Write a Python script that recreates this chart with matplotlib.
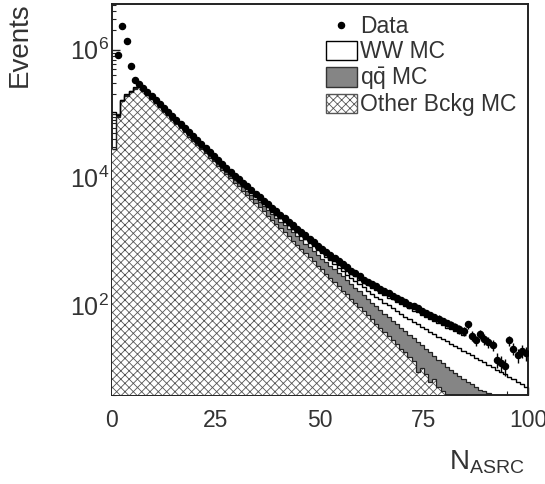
import numpy as np
import matplotlib
matplotlib.use('Agg')
import matplotlib.pyplot as plt
from matplotlib.patches import Patch
from matplotlib.lines import Line2D
from matplotlib.ticker import LogLocator, FixedLocator, FixedFormatter, NullFormatter, MultipleLocator

plt.rcParams['font.family'] = ['Liberation Sans', 'DejaVu Sans']
plt.rcParams['mathtext.fontset'] = 'custom'
plt.rcParams['mathtext.rm'] = 'Liberation Sans'
plt.rcParams['mathtext.it'] = 'Liberation Sans:italic'
plt.rcParams['hatch.linewidth'] = 0.6

# bin edges 0..100, one unit wide; values are log10(events) per bin
edges = np.arange(0, 101)

other_log = [4.44, 4.95, 5.20, 5.28, 5.34, 5.39, 5.42, 5.36, 5.29, 5.23,
             5.16, 5.10, 5.03, 4.97, 4.90, 4.84, 4.77, 4.71, 4.64, 4.57,
             4.51, 4.44, 4.38, 4.31, 4.25, 4.18, 4.12, 4.05, 3.99, 3.92,
             3.86, 3.79, 3.73, 3.66, 3.60, 3.53, 3.47, 3.40, 3.34, 3.27,
             3.21, 3.14, 3.08, 3.01, 2.95, 2.88, 2.82, 2.75, 2.69, 2.62,
             2.56, 2.49, 2.43, 2.36, 2.30, 2.23, 2.17, 2.10, 2.04, 1.97,
             1.91, 1.84, 1.78, 1.71, 1.65, 1.58, 1.52, 1.45, 1.39, 1.32,
             1.26, 1.19, 1.13, 0.95, 1.02, 0.93, 0.80, 0.84, 0.72, 0.65,
             0.45, 0.0, 0.0, 0.0, 0.0, 0.0, 0.0, 0.0, 0.0, 0.0,
             0.0, 0.0, 0.0, 0.0, 0.0, 0.0, 0.0, 0.0, 0.0, 0.0]

# other + qqbar (top of grey band)
qq_log = [4.44, 4.96, 5.21, 5.29, 5.35, 5.40, 5.43, 5.37, 5.30, 5.24,
          5.17, 5.11, 5.05, 4.98, 4.92, 4.85, 4.79, 4.72, 4.66, 4.59,
          4.53, 4.46, 4.40, 4.34, 4.27, 4.21, 4.15, 4.08, 4.02, 3.96,
          3.91, 3.85, 3.79, 3.73, 3.67, 3.61, 3.55, 3.49, 3.43, 3.37,
          3.31, 3.25, 3.19, 3.14, 3.08, 3.02, 2.96, 2.91, 2.85, 2.79,
          2.73, 2.68, 2.62, 2.56, 2.50, 2.45, 2.39, 2.33, 2.27, 2.22,
          2.16, 2.10, 2.04, 1.99, 1.93, 1.87, 1.82, 1.76, 1.70, 1.64,
          1.59, 1.53, 1.48, 1.42, 1.37, 1.31, 1.26, 1.20, 1.15, 1.09,
          1.04, 0.99, 0.94, 0.89, 0.84, 0.80, 0.76, 0.72, 0.68, 0.65,
          0.62, 0.58, 0.0, 0.0, 0.0, 0.0, 0.0, 0.0, 0.0, 0.0]

# total MC (other + qqbar + WW)
ww_log = [5.03, 4.97, 5.22, 5.30, 5.36, 5.41, 5.44, 5.38, 5.32, 5.26,
          5.19, 5.13, 5.07, 5.01, 4.94, 4.88, 4.82, 4.76, 4.69, 4.63,
          4.57, 4.51, 4.44, 4.38, 4.32, 4.26, 4.19, 4.13, 4.07, 4.01,
          3.95, 3.89, 3.83, 3.77, 3.71, 3.65, 3.59, 3.53, 3.48, 3.42,
          3.36, 3.30, 3.25, 3.19, 3.14, 3.08, 3.03, 2.97, 2.92, 2.86,
          2.81, 2.75, 2.70, 2.64, 2.59, 2.54, 2.48, 2.43, 2.38, 2.33,
          2.28, 2.23, 2.18, 2.13, 2.09, 2.04, 2.00, 1.95, 1.91, 1.86,
          1.82, 1.78, 1.74, 1.70, 1.66, 1.62, 1.58, 1.55, 1.51, 1.47,
          1.44, 1.40, 1.36, 1.33, 1.29, 1.25, 1.22, 1.18, 1.14, 1.11,
          1.07, 1.03, 0.99, 0.96, 0.92, 0.88, 0.84, 0.80, 0.76, 0.72]

# second outline lying just under the data (bins 38..84)
upper_start = 38
upper_log = [3.46, 3.42, 3.36, 3.31, 3.26, 3.20, 3.15, 3.10, 3.04, 2.99,
             2.94, 2.88, 2.83, 2.79, 2.73, 2.69, 2.63, 2.59, 2.54, 2.49,
             2.45, 2.39, 2.35, 2.31, 2.27, 2.24, 2.19, 2.16, 2.12, 2.09,
             2.05, 2.02, 1.98, 1.95, 1.91, 1.89, 1.84, 1.82, 1.78, 1.75,
             1.72, 1.69, 1.65, 1.63, 1.59, 1.57, 1.53]

# data, bins 1..99 (points at bin centres)
data_log = [5.91, 6.37, 6.14, 5.75, 5.53, 5.46, 5.40, 5.34, 5.28,
            5.21, 5.15, 5.09, 5.03, 4.96, 4.90, 4.84, 4.78, 4.71, 4.65,
            4.59, 4.53, 4.46, 4.40, 4.34, 4.28, 4.21, 4.15, 4.09, 4.03,
            3.97, 3.91, 3.86, 3.80, 3.74, 3.69, 3.63, 3.58, 3.52, 3.47,
            3.42, 3.36, 3.31, 3.26, 3.20, 3.15, 3.10, 3.04, 2.99, 2.93,
            2.88, 2.84, 2.79, 2.74, 2.69, 2.64, 2.60, 2.54, 2.50, 2.45,
            2.40, 2.37, 2.33, 2.30, 2.25, 2.22, 2.19, 2.15, 2.12, 2.08,
            2.05, 2.01, 1.98, 1.95, 1.91, 1.88, 1.85, 1.81, 1.79, 1.75,
            1.72, 1.69, 1.66, 1.62, 1.60, 1.70, 1.52, 1.45, 1.55, 1.47,
            1.42, 1.38, 1.15, 1.10, 1.05, 1.45, 1.32, 1.22, 1.28, 1.25]

y_major = [1e1, 1e2, 1e3, 1e4, 1e5, 1e6]
y_labels = ['', r'$10^{2}$', '', r'$10^{4}$', '', r'$10^{6}$']

other = 10 ** np.array(other_log)
qq = 10 ** np.array(qq_log)
ww = 10 ** np.array(ww_log)
upper = 10 ** np.array(upper_log)
data = 10 ** np.array(data_log)
data_x = np.arange(1, 100) + 0.5
data_err = np.sqrt(data)

text_col = '#333333'

fig = plt.figure(figsize=(5.45, 4.84), dpi=100)
ax = fig.add_axes([0.2055, 0.1839, 0.7633, 0.8079])

# stacked histograms: WW (white) on qq (grey) on other (hatched)
ax.stairs(ww, edges, baseline=1, fill=True, facecolor='white', edgecolor='none', zorder=1)
ax.stairs(qq, edges, baseline=1, fill=True, facecolor='#858585', edgecolor='none', zorder=2)
ax.stairs(other, edges, baseline=1, fill=True, facecolor='white', edgecolor='#555555',
          linewidth=0, hatch='xxxx', zorder=3)
ax.stairs(other, edges, baseline=None, color='#222222', linewidth=0.9, zorder=4)
ax.stairs(qq, edges, baseline=None, color='#222222', linewidth=0.9, zorder=4)
ax.stairs(ww, edges, baseline=None, color='black', linewidth=1.0, zorder=5)
ax.stairs(upper, edges[upper_start:upper_start + len(upper) + 1], baseline=None,
          color='black', linewidth=1.0, zorder=5)

ax.errorbar(data_x, data, yerr=data_err, fmt='o', color='black', markersize=4.4,
            elinewidth=1.0, capsize=0, zorder=6)

ax.set_yscale('log')
ax.set_xlim(0, 100)
ax.set_ylim(3.93, 5.2e6)

ax.xaxis.set_major_locator(MultipleLocator(25))
ax.xaxis.set_minor_locator(MultipleLocator(5))
ax.yaxis.set_major_locator(FixedLocator(y_major))
ax.yaxis.set_major_formatter(FixedFormatter(y_labels))
ax.yaxis.set_minor_locator(LogLocator(base=10, subs=np.arange(2, 10), numticks=12))
ax.yaxis.set_minor_formatter(NullFormatter())

ax.tick_params(axis='both', which='both', direction='in', top=False, right=False,
               colors='#222222', labelcolor=text_col)
ax.tick_params(axis='both', which='major', length=6, width=1)
ax.tick_params(axis='both', which='minor', length=3, width=0.8)
ax.tick_params(axis='x', which='major', pad=10, labelsize=16.5)
ax.tick_params(axis='y', which='major', pad=2, labelsize=18)
for s in ax.spines.values():
    s.set_linewidth(1.4)
    s.set_color('#222222')

fig.text(0.037, 0.995, 'Events', rotation=90, ha='center', va='top', fontsize=20, color=text_col)
fig.text(0.893, 0.045, r'N$_{\rm ASRC}$', ha='center', va='center', fontsize=20, color=text_col)

handles = [Line2D([], [], marker='o', linestyle='none', color='black', markersize=4.4),
           Patch(facecolor='white', edgecolor='black', linewidth=1),
           Patch(facecolor='#858585', edgecolor='#333333', linewidth=1),
           Patch(facecolor='white', edgecolor='#555555', hatch='xxxx', linewidth=1)]
labels = ['Data', 'WW MC', r'q$\bar{\rm q}$ MC', 'Other Bckg MC']
ax.legend(handles, labels, loc='upper right', frameon=False, fontsize=16.5,
          handlelength=1.35, handleheight=0.95, handletextpad=0.15, labelspacing=0.08,
          borderaxespad=0.1, labelcolor=text_col)

plt.savefig('out.png', dpi=100)
plt.close()
